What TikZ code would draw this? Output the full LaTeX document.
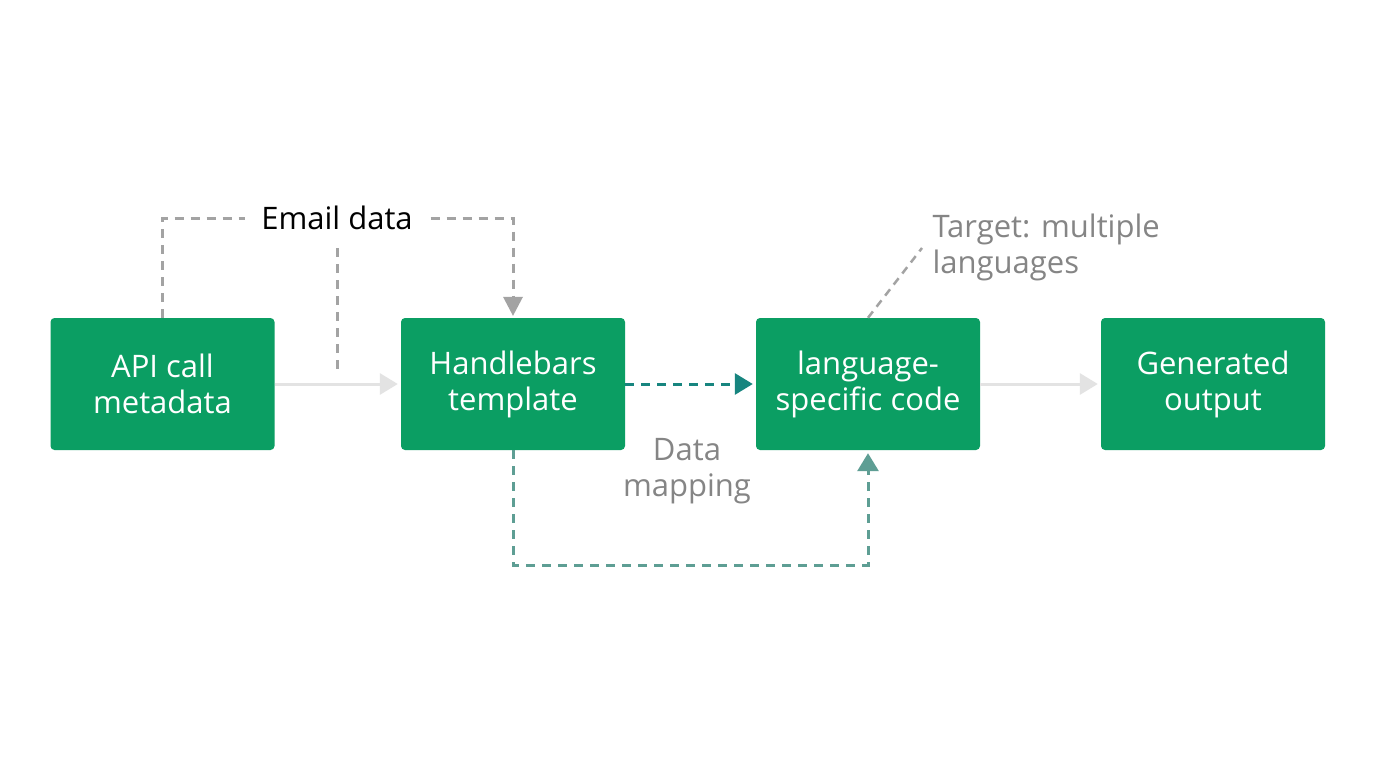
\documentclass[tikz,border=0pt]{standalone}
\usepackage{fontspec}
\setmainfont{Open Sans}
\usetikzlibrary{arrows.meta,positioning}
\definecolor{boxgreen}{HTML}{0B9E63}
\definecolor{tealdark}{HTML}{17857F}
\definecolor{teallight}{HTML}{5E9E94}
\definecolor{dashgray}{HTML}{A3A3A3}
\definecolor{lightarrow}{HTML}{E3E3E3}
\definecolor{labelgray}{HTML}{858585}
\tikzset{
  stepbox/.style={rectangle, rounded corners=4pt, fill=boxgreen, text=white,
    minimum width=224pt, minimum height=132pt, align=center, inner sep=0pt,
    font=\fontsize{31}{36}\selectfont},
  tipstyle/.style={-{Triangle[length=18pt,width=21pt,fill=#1]}, shorten >=3pt},
  plainflow/.style={draw=lightarrow, line width=3pt, tipstyle=lightarrow},
  graydash/.style={draw=dashgray, line width=3pt, dash pattern=on 9pt off 7pt},
  mainlabel/.style={font=\fontsize{31}{36}\selectfont, align=center},
}
\begin{document}
\begin{tikzpicture}[x=1pt,y=-1pt]
\useasboundingbox[fill=white] (0,0) rectangle (1376,768);

\node[stepbox] (api) at (162.5,384) {API call\\metadata};
\node[stepbox] (hb) at (513,384) {Handlebars\\template};
\node[stepbox] (lang) at (868,384) {language-\\specific code};
\node[stepbox] (gen) at (1213,384) {Generated\\output};

% plain flows
\draw[plainflow] (api.east) -- (hb.west);
\draw[plainflow] (lang.east) -- (gen.west);

% email data
\coordinate (etop) at (337,218);
\draw[graydash] (api.north) |- (etop) -| ([yshift=18pt]hb.north);
\fill[dashgray] ([yshift=2pt]hb.north) -- ++(-10,-19) -- ++(20,0) -- cycle;
\node[mainlabel, fill=white, inner xsep=16pt, inner ysep=4pt] (email) at (etop) {Email data};
\coordinate (evtop) at (337,248);
\coordinate (evbot) at (337,372);
\draw[graydash] (evtop) -- (evbot);

% handlebars -> language
\draw[draw=tealdark, line width=3pt, dash pattern=on 9pt off 7pt, tipstyle=tealdark]
  (hb.east) -- (lang.west);

% data mapping
\coordinate (dmb) at (513,565);
\draw[draw=teallight, line width=3pt, dash pattern=on 9pt off 7pt, tipstyle=teallight]
  (hb.south) |- (dmb) -| (lang.south);
\node[mainlabel, text=labelgray] (dmlabel) at (687,471) {Data\\mapping};

% target
\coordinate (tgt) at (922,248);
\draw[graydash, line width=2.5pt, dash pattern=on 8pt off 6pt] (lang.north) -- (tgt);
\node[mainlabel, text=labelgray, align=left, anchor=west] (target) at (929,247) {Target: multiple\\languages};
\end{tikzpicture}
\end{document}
